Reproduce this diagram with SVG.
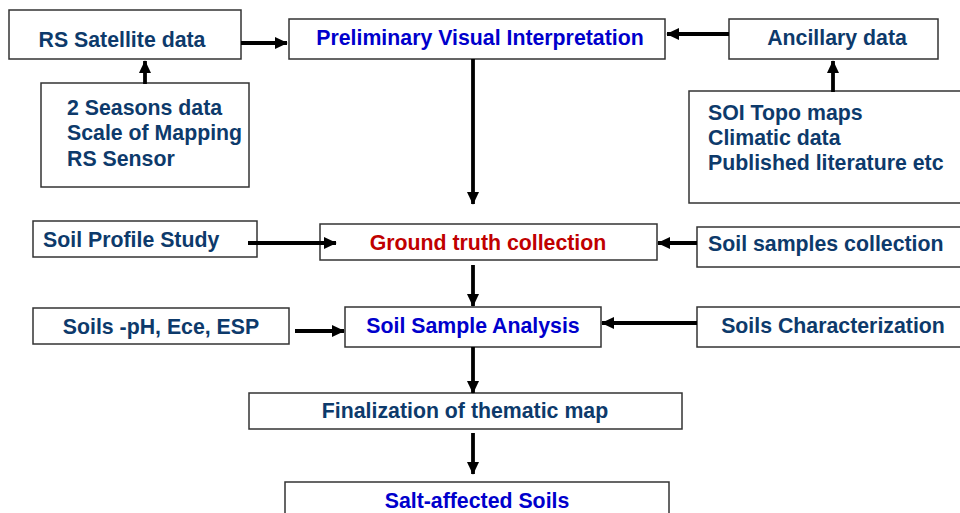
<svg xmlns="http://www.w3.org/2000/svg" width="960" height="513" viewBox="0 0 960 513">
<defs>
<marker id="ah" markerWidth="4" markerHeight="4" refX="3.2" refY="2" orient="auto" markerUnits="strokeWidth">
<path d="M0,0.4 L3.4,2 L0,3.6 Z" fill="#000"/>
</marker>
<style>
.b{fill:#fff;stroke:#333;stroke-width:1.5}
.t{font-family:"Liberation Sans",Arial,sans-serif;font-weight:bold;font-size:21.3px;fill:#0D3A6B}
.c{text-anchor:middle}
.bl{fill:#0000CC}
.rd{fill:#C00000}
.a{stroke:#000;stroke-width:3.8;fill:none;marker-end:url(#ah)}
</style>
</defs>
<rect width="960" height="513" fill="#fff"/>
<g id="n1"><rect class="b" x="9" y="10" width="232" height="49"/><text class="t c" x="122" y="47">RS Satellite data</text></g>
<g id="n2"><rect class="b" x="289" y="19" width="376" height="40"/><text class="t c bl" x="480" y="45">Preliminary Visual Interpretation</text></g>
<g id="n3"><rect class="b" x="729" y="19" width="209" height="40"/><text class="t c" x="837" y="45">Ancillary data</text></g>
<g id="n4"><rect class="b" x="41" y="83" width="208" height="104"/><text class="t" x="67" y="115">2 Seasons data</text><text class="t" x="67" y="140">Scale of Mapping</text><text class="t" x="67" y="166">RS Sensor</text></g>
<g id="n5"><rect class="b" x="689" y="91" width="280" height="112"/><text class="t" x="708" y="120">SOI Topo maps</text><text class="t" x="708" y="145">Climatic data</text><text class="t" x="708" y="170">Published literature etc</text></g>
<g id="n6"><rect class="b" x="33" y="221" width="224" height="36"/><text class="t" x="43" y="247">Soil Profile Study</text></g>
<g id="n7"><rect class="b" x="320" y="224" width="337" height="36"/><text class="t c rd" x="488" y="250">Ground truth collection</text></g>
<g id="n8"><rect class="b" x="697" y="227" width="270" height="40"/><text class="t" x="708" y="251">Soil samples collection</text></g>
<g id="n9"><rect class="b" x="33" y="308" width="256" height="36"/><text class="t c" x="161" y="334">Soils -pH, Ece, ESP</text></g>
<g id="n10"><rect class="b" x="345" y="307" width="256" height="40"/><text class="t c bl" x="473" y="333">Soil Sample Analysis</text></g>
<g id="n11"><rect class="b" x="697" y="307" width="270" height="40"/><text class="t c" x="833" y="333">Soils Characterization</text></g>
<g id="n12"><rect class="b" x="249" y="393" width="433" height="36"/><text class="t c" x="465" y="418">Finalization of thematic map</text></g>
<g id="n13"><rect class="b" x="285" y="482" width="384" height="40"/><text class="t c bl" x="477" y="508">Salt-affected Soils</text></g>
<g id="connectors">
<line class="a" x1="241" y1="43" x2="287" y2="43"/>
<line class="a" x1="145" y1="84" x2="145" y2="61"/>
<line class="a" x1="729" y1="34" x2="667" y2="34"/>
<line class="a" x1="833" y1="92" x2="833" y2="61"/>
<line class="a" x1="473" y1="59" x2="473" y2="204"/>
<line class="a" x1="248" y1="243" x2="336" y2="243"/>
<line class="a" x1="697" y1="243" x2="658" y2="243"/>
<line class="a" x1="473" y1="265" x2="473" y2="306"/>
<line class="a" x1="295" y1="331" x2="344" y2="331"/>
<line class="a" x1="697" y1="323" x2="602" y2="323"/>
<line class="a" x1="473" y1="347" x2="473" y2="393"/>
<line class="a" x1="473" y1="433" x2="473" y2="474"/>
</g>
</svg>
